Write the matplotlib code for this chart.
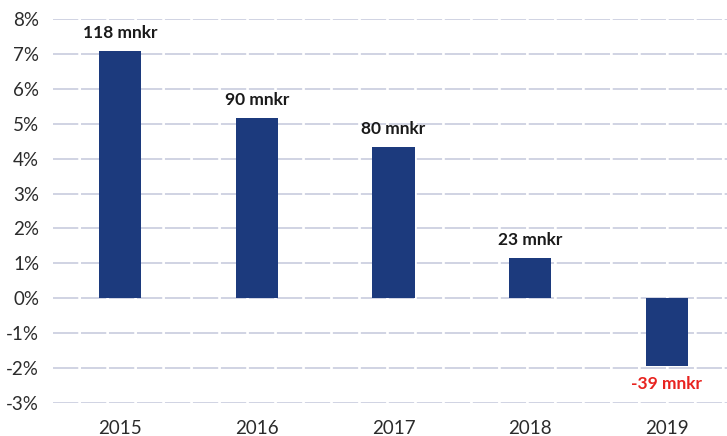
import matplotlib.pyplot as plt
from matplotlib.ticker import FuncFormatter

years = ["2015", "2016", "2017", "2018", "2019"]
growth = [7.08, 5.17, 4.34, 1.16, -1.95]
labels = ["118 mnkr", "90 mnkr", "80 mnkr", "23 mnkr", "-39 mnkr"]

plt.rcParams['font.family'] = ['Lato', 'DejaVu Sans']

fig = plt.figure(figsize=(7.27, 4.36), dpi=100)
ax = fig.add_axes([0.073, 0.0757, 0.927, 0.8807])

x = range(len(years))
ax.bar(x, growth, width=0.31, color="#1c3a7d", zorder=3)

for i, (v, lab) in enumerate(zip(growth, labels)):
    if v >= 0:
        ax.annotate(lab, (i, v), xytext=(0, 7), textcoords="offset points",
                    ha="center", va="bottom", fontsize=12.5, fontweight="bold", color="#1a1a1a")
    else:
        ax.annotate(lab, (i, v), xytext=(0, -7), textcoords="offset points",
                    ha="center", va="top", fontsize=12.5, fontweight="bold", color="#e8231f")

ax.set_ylim(-3, 8)
ax.set_xlim(-0.49, 4.44)
ax.set_yticks(range(-3, 9))
ax.yaxis.set_major_formatter(FuncFormatter(lambda v, p: f"{int(v)}%"))
ax.set_xticks(list(x))
ax.set_xticklabels(years)
ax.grid(axis="y", color="#cdd0e0", linewidth=1.3, linestyle=(0, (14, 1.5)), zorder=0)
for s in ax.spines.values():
    s.set_visible(False)
ax.tick_params(length=0, labelsize=13.5, colors="#2b2b2b")
ax.tick_params(axis="y", pad=10)
ax.tick_params(axis="x", pad=12)

fig.savefig("out.png", dpi=100)
